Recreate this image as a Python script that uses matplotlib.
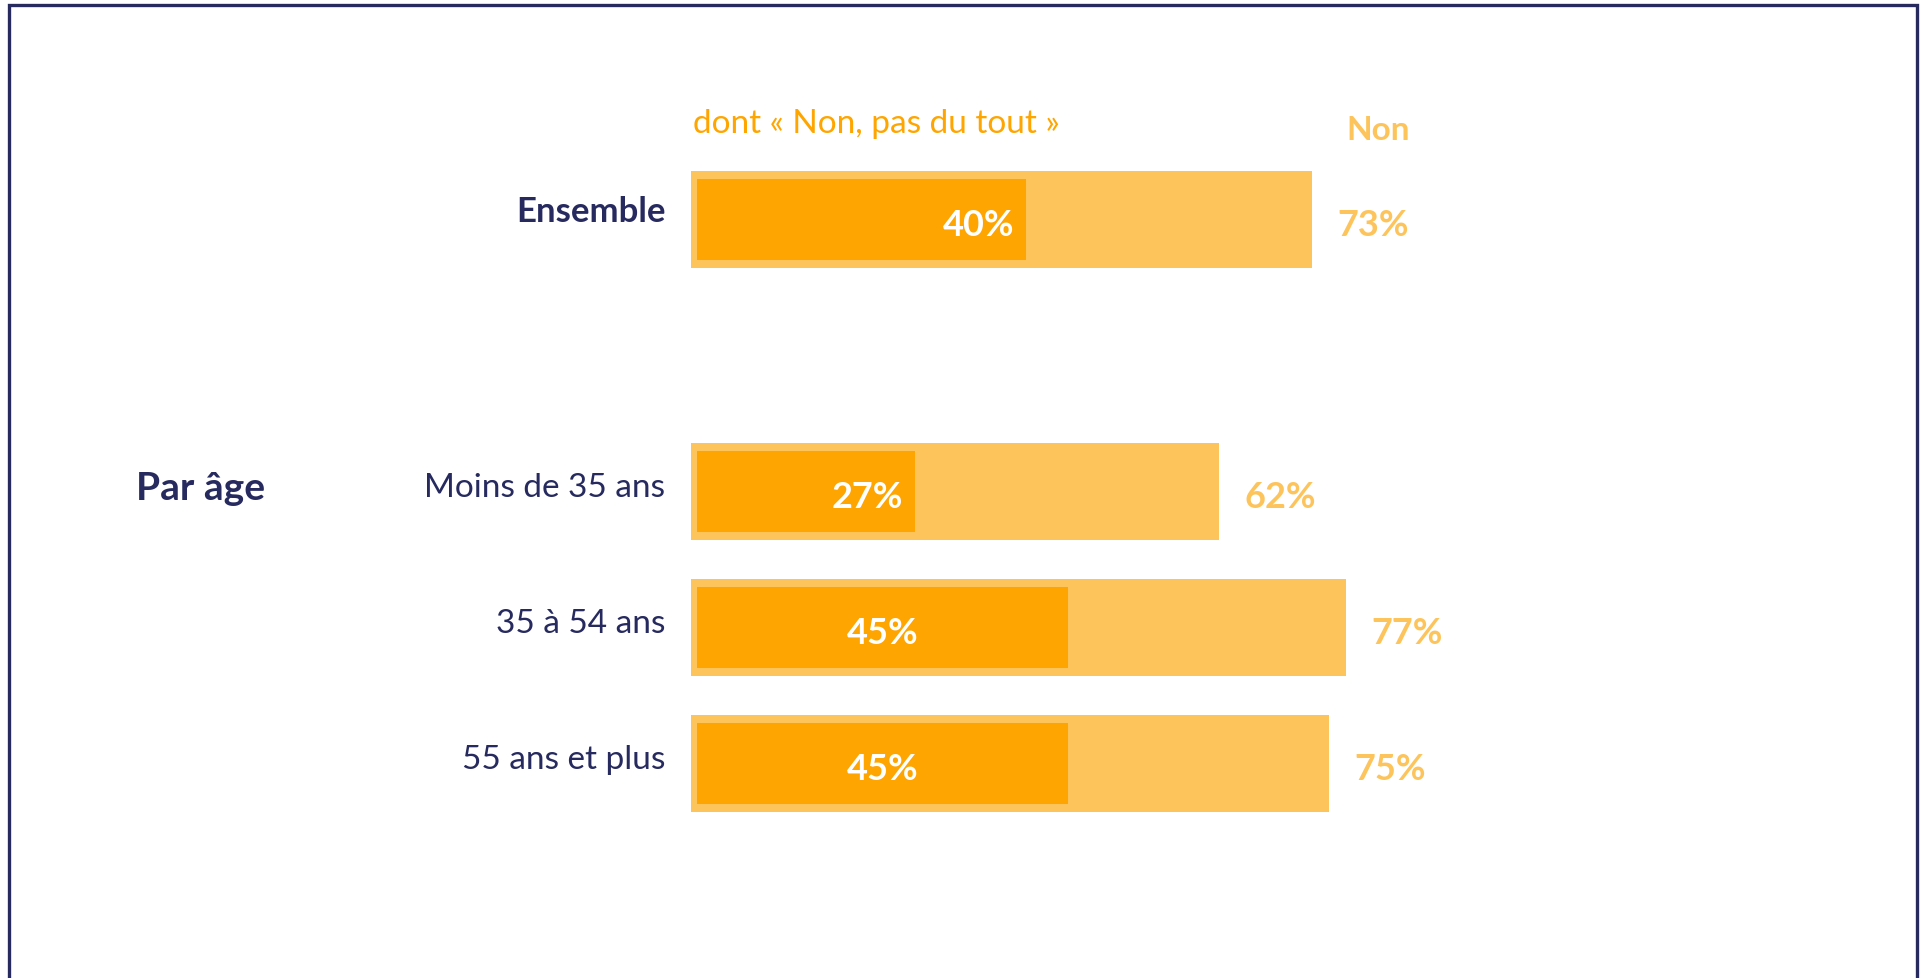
import matplotlib
matplotlib.use("Agg")
import matplotlib.pyplot as plt
from matplotlib.lines import Line2D

# ---- data ----
categories = ["Ensemble", "Moins de 35 ans", "35 à 54 ans", "55 ans et plus"]
non_total = [73, 62, 77, 75]          # "Non"
non_pas_du_tout = [40, 27, 45, 45]    # dont « Non, pas du tout »
group_label = "Par âge"
header_sub = "dont « Non, pas du tout »"
header_main = "Non"
inner_align = ["right", "right", "center", "center"]

# ---- style ----
NAVY = "#262a5e"
LIGHT = "#fdc45c"
DARK = "#ffa502"
ORANGE_TXT = "#ffa500"
FONT = ["Lato", "DejaVu Sans"]

W, H = 1921, 979
fig = plt.figure(figsize=(W / 100, H / 100), dpi=100)
ax = fig.add_axes([0, 0, 1, 1])
ax.set_axis_off()

# scale: 8.51 px per percent, bar origin at x=691px; 136 px per row, first row at y=220.5px
px_per_pct = 8.51
x0_px = 691
px_per_row = 136
y0_px = 220.5
ax.set_xlim(-x0_px / px_per_pct, (W - x0_px) / px_per_pct)
ax.set_ylim((H - y0_px) / px_per_row, -y0_px / px_per_row)

# row positions: Ensemble, blank row, then the age groups
ypos = [0] + [2 + i for i in range(len(categories) - 1)]

inset = 0.65
ax.barh(ypos, non_total, height=0.72, color=LIGHT, zorder=1)
ax.barh(ypos, [v - 2 * inset for v in non_pas_du_tout], left=inset,
        height=0.59, color=DARK, zorder=2)

dy_num = 0.035
for i, (y, cat, v, v2, al) in enumerate(zip(ypos, categories, non_total,
                                            non_pas_du_tout, inner_align)):
    weight = "bold" if i == 0 else "normal"
    size = 25 if i == 0 else 24
    off = -0.06 if i == 0 else -0.035
    ax.text(-3.0, y + off, cat, ha="right", va="center", color=NAVY,
            fontsize=size, fontweight=weight, family=FONT)
    ax.text(v + 3.0, y + dy_num, f"{v}%", ha="left", va="center", color=LIGHT,
            fontsize=26, fontweight="bold", family=FONT)
    if al == "right":
        ax.text(v2 - inset - 1.4, y + dy_num, f"{v2}%", ha="right", va="center",
                color="white", fontsize=26, fontweight="bold", family=FONT)
    else:
        ax.text(v2 / 2, y + dy_num, f"{v2}%", ha="center", va="center",
                color="white", fontsize=26, fontweight="bold", family=FONT)

ax.text(-65.2, ypos[1] - 0.03, group_label, ha="left", va="center", color=NAVY,
        fontsize=28, fontweight="bold", family=FONT)
ax.text(0.2, -0.71, header_sub, ha="left", va="center", color=ORANGE_TXT,
        fontsize=24, fontweight="normal", family=FONT)
ax.text(80.7, -0.66, header_main, ha="center", va="center", color=LIGHT,
        fontsize=24, fontweight="bold", family=FONT)

# frame: top, left, right
lw = 2.4
xl, xr, yt = 8.6 / W, 1917 / W, 1 - 6 / H
fig.add_artist(Line2D([xl, xl, xr, xr], [0, yt, yt, 0], transform=fig.transFigure,
                      color=NAVY, linewidth=lw, solid_joinstyle="miter"))

fig.savefig("out.png", dpi=100)
